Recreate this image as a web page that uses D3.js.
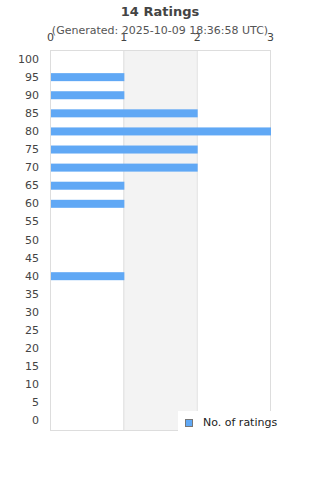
<!DOCTYPE html>
<html>
<head>
<meta charset="utf-8">
<script src="https://cdn.jsdelivr.net/npm/d3@7"></script>
<style>
  body { margin: 0; background: #fff; }
  text { font-family: "DejaVu Sans", sans-serif; }
</style>
</head>
<body>
<svg id="chart" width="320" height="480"></svg>
<script>
// rating buckets, top to bottom
var categories = ["100","95","90","85","80","75","70","65","60","55","50","45","40","35","30","25","20","15","10","5","0"];
var counts     = [0, 1, 1, 2, 3, 2, 2, 1, 1, 0, 0, 0, 1, 0, 0, 0, 0, 0, 0, 0, 0];
var xTicks = [0, 1, 2, 3];
var titleText = "14 Ratings";
var subtitleText = "(Generated: 2025-10-09 18:36:58 UTC)";
var seriesName = "No. of ratings";

var svg = d3.select("#chart"),
    plotL = 50, plotR = 270, plotT = 50, plotB = 430;

var x = d3.scaleLinear().domain([0, 3]).range([plotL, plotR]);
var y = d3.scaleBand().domain(categories).range([plotT, plotB]);

// alternating bands
svg.append("g").selectAll("rect")
  .data(xTicks.slice(0, -1))
  .enter().append("rect")
  .attr("x", function(d) { return x(d); })
  .attr("y", plotT)
  .attr("width", function(d) { return x(d + 1) - x(d); })
  .attr("height", plotB - plotT)
  .attr("fill", function(d) { return d % 2 ? "#f3f3f3" : "#fff"; });

// grid lines
svg.append("g").selectAll("line")
  .data(xTicks)
  .enter().append("line")
  .attr("x1", function(d) { return x(d) + 0.5; })
  .attr("x2", function(d) { return x(d) + 0.5; })
  .attr("y1", plotT).attr("y2", plotB)
  .attr("stroke", "#ddd");

svg.append("line").attr("x1", plotL).attr("x2", plotR + 1)
  .attr("y1", plotT + 0.5).attr("y2", plotT + 0.5).attr("stroke", "#ddd");
svg.append("line").attr("x1", plotL).attr("x2", plotR + 1)
  .attr("y1", plotB + 0.5).attr("y2", plotB + 0.5).attr("stroke", "#ddd");

// bars
svg.append("g").selectAll("rect")
  .data(counts)
  .enter().append("rect")
  .attr("x", x(0) + 1)
  .attr("y", function(d, i) { return y(categories[i]) + y.bandwidth() / 2 - 4; })
  .attr("width", function(d) { return Math.max(0, x(d) - x(0)); })
  .attr("height", function(d) { return d ? 8 : 0; })
  .attr("fill", "#60a8f5");

// y axis labels
var yAxis = d3.axisLeft(y).tickSize(0).tickPadding(11);
var gy = svg.append("g").attr("transform", "translate(" + plotL + ",0)").call(yAxis);
gy.select(".domain").remove();
gy.selectAll("text").attr("fill", "#444").style("font-size", "11px");

// x axis labels on top
var xAxis = d3.axisTop(x).tickValues(xTicks).tickFormat(d3.format("d")).tickSize(0).tickPadding(9);
var gx = svg.append("g").attr("transform", "translate(0," + plotT + ")").call(xAxis);
gx.select(".domain").remove();
gx.selectAll("text").attr("fill", "#444").style("font-size", "11px");

// titles
svg.append("text").attr("x", 160).attr("y", 16).attr("text-anchor", "middle")
  .attr("fill", "#444").style("font-size", "13px").style("font-weight", "bold")
  .text(titleText);
svg.append("text").attr("x", 160).attr("y", 34).attr("text-anchor", "middle")
  .attr("fill", "#555").style("font-size", "11px")
  .text(subtitleText);

// legend
var lg = svg.append("g").attr("transform", "translate(178,411)");
lg.append("rect").attr("width", 104).attr("height", 24).attr("fill", "#fff");
lg.append("rect").attr("x", 7.5).attr("y", 8.5).attr("width", 7).attr("height", 7)
  .attr("fill", "#60a8f5").attr("stroke", "#777");
lg.append("text").attr("x", 25).attr("y", 15).attr("fill", "#222")
  .style("font-size", "11px").text(seriesName);
</script>
</body>
</html>
